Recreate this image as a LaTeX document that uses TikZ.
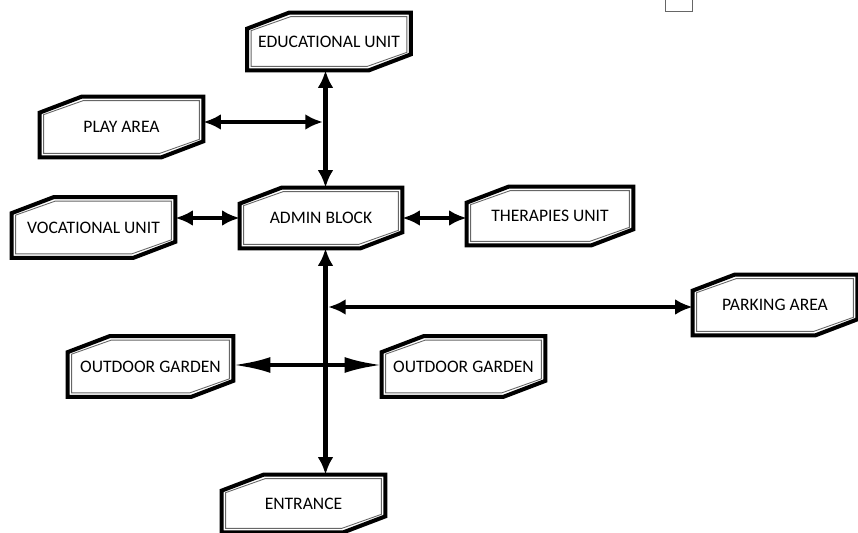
\documentclass[tikz,border=0pt]{standalone}
\usepackage{fontspec}
\setmainfont{Carlito}
\usetikzlibrary{calc,arrows.meta}

% chamfered double frame round a named node
\newcommand{\unitframe}[1]{%
  \draw[line width=2.3pt] ($(#1.north west)+(0,-0.32)$) -- ($(#1.north west)+(0.84,0)$) -- (#1.north east)
    -- ($(#1.south east)+(0,0.32)$) -- ($(#1.south east)+(-0.84,0)$) -- (#1.south west) -- cycle;
  \draw[line width=0.5pt, black!60] ($(#1.north west)+(0.08,-0.36)$) -- ($(#1.north west)+(0.87,-0.08)$) -- ($(#1.north east)+(-0.08,-0.08)$)
    -- ($(#1.south east)+(-0.08,0.36)$) -- ($(#1.south east)+(-0.87,0.08)$) -- ($(#1.south west)+(0.08,0.08)$) -- cycle;
}

\tikzset{
  unit/.style={rectangle, inner sep=0pt, minimum width=3.26cm, minimum height=1.2cm,
    font=\fontsize{10}{12}\selectfont},
  link/.style={line width=2.8pt, <->, >={Latex[length=10pt,width=9pt]}},
  sidelink/.style={line width=2.3pt, <->, >={Latex[length=10pt,width=9pt]}},
  gardenlink/.style={line width=2.3pt, <->, >={Latex[length=21pt,width=9pt]}}
}

\begin{document}
\begin{tikzpicture}
  \useasboundingbox (0,0) rectangle (17.16,-10.66);

  % Units
  \node[unit, minimum height=1.14cm] (edu) at (6.58,-0.83) {EDUCATIONAL UNIT};
  \node[unit] (play) at (2.43,-2.54) {\raisebox{-0.1cm}{PLAY AREA}\hspace{0.25cm}};
  \node[unit] (voc) at (1.87,-4.55) {\raisebox{-0.09cm}{VOCATIONAL UNIT}};
  \node[unit, minimum width=3.24cm] (admin) at (6.42,-4.36) {ADMIN BLOCK\hspace{0.3cm}};
  \node[unit, minimum width=3.32cm, minimum height=1.16cm] (ther) at (11.0,-4.32) {\raisebox{-0.06cm}{THERAPIES UNIT}\hspace{0.12cm}};
  \node[unit, minimum width=3.28cm] (park) at (15.5,-6.10) {\raisebox{-0.1cm}{PARKING AREA}};
  \node[unit, minimum width=3.3cm] (gardenL) at (3.01,-7.33) {\raisebox{-0.1cm}{OUTDOOR GARDEN}};
  \node[unit] (gardenR) at (9.27,-7.33) {\raisebox{-0.1cm}{OUTDOOR GARDEN}};
  \node[unit, minimum height=1.14cm] (entr) at (6.07,-10.07) {\raisebox{-0.07cm}{ENTRANCE}\hspace{0.2cm}};

  \foreach \n in {edu,play,voc,admin,ther,park,gardenL,gardenR,entr}
    \unitframe{\n};

  % Spine
  \coordinate (spine) at (6.51,-6.1);

  % Arrows
  \draw[link] (edu.south -| spine) -- (admin.north -| spine);
  \draw[link, shorten >=1.5pt] ([yshift=0.1cm]play.east) -- ([yshift=0.1cm]play.east -| spine);
  \draw[link] (voc.east |- admin.west) -- (admin.west);
  \draw[link] (admin.east) -- (ther.west |- admin.east);
  \draw[link] (admin.south -| spine) -- (entr.north -| spine);
  \draw[sidelink, shorten <=1.5pt] ([yshift=-0.04cm]park.west -| spine) -- ([yshift=-0.04cm]park.west);
  \draw[gardenlink] ([yshift=0.03cm]gardenL.east) -- ([yshift=0.03cm]gardenR.west);

  % stray mark at the top
  \draw[black!60, line width=0.5pt] (13.3,0) -- (13.3,-0.22) -- (13.84,-0.22) -- (13.84,0);
\end{tikzpicture}
\end{document}
